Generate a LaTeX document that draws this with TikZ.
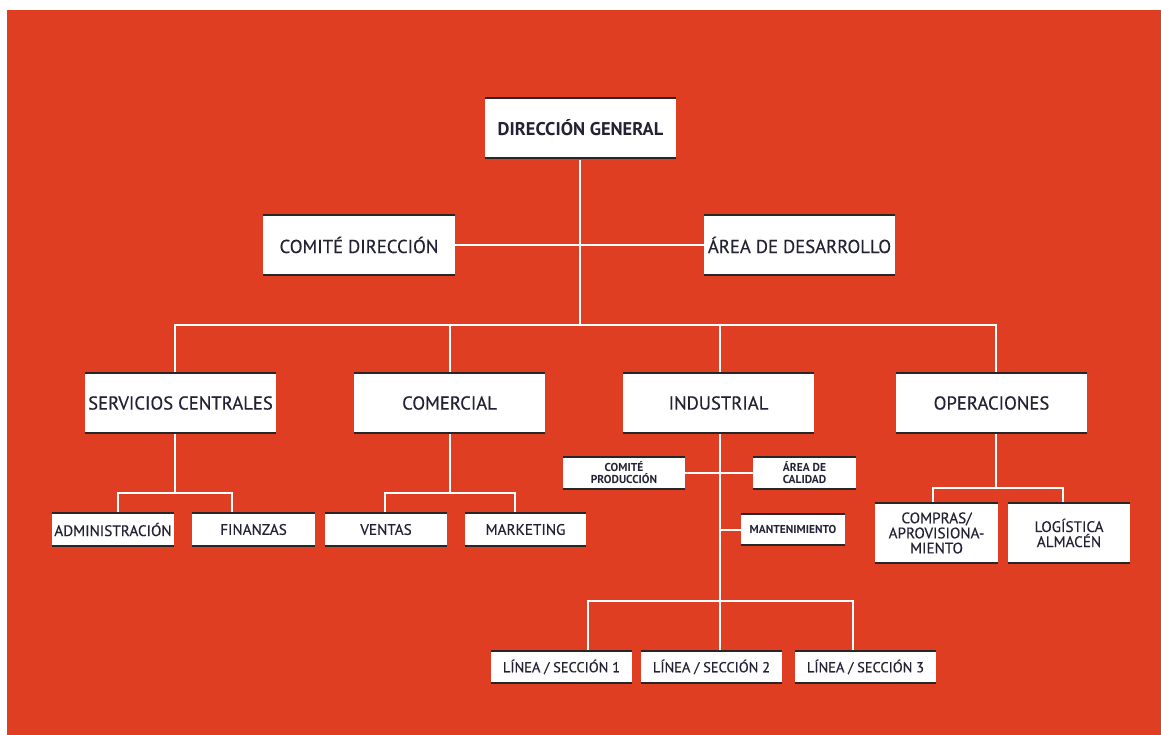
\documentclass[tikz,border=0pt]{standalone}
\usepackage{fontspec}
\setmainfont{PT Sans}
\newfontfamily\dinfont[FakeBold=0.35]{PT Sans}
\newfontfamily\dinbold{PT Sans Bold}
\definecolor{chartred}{RGB}{224,62,34}
\definecolor{inkdark}{RGB}{34,34,52}
\definecolor{rulegray}{RGB}{38,38,38}

% Box with a dark rule along its top and bottom edges.
\newcommand\orgbox[7][]{%
  \node[orgbox,#1,minimum width={(#5-#3)*0.75pt},minimum height={(#6-#4)*0.75pt}]
       (#2) at ({(#3+#5)/2},{(#4+#6)/2}) {#7};
  \draw[edgerule,#1] (#2.north west) -- (#2.north east);
  \draw[edgerule,#1] (#2.south west) -- (#2.south east);
}

\tikzset{
  orgbox/.style={fill=white,inner sep=0pt,align=center,text=inkdark,font=\dinfont\fontsize{14}{16}\selectfont},
  edgerule/.style={draw=rulegray,line width=1.5pt},
  headbox/.style={font=\dinbold\fontsize{13.8}{16}\selectfont,edgerule/.append style={draw=black,line width=4pt}},
  smallbox/.style={font=\dinfont\fontsize{11.4}{11.3}\selectfont},
  linebox/.style={font=\dinfont\fontsize{10.8}{12}\selectfont},
  tinybox/.style={font=\dinbold\fontsize{8.6}{9}\selectfont},
  link/.style={draw=white,line width=1.2pt},
}

\begin{document}
\begin{tikzpicture}[x=0.75pt,y=-0.75pt]
  \useasboundingbox (0,0) rectangle (1161,735);
  \fill[white] (0,0) rectangle (1161,735);
  \fill[chartred] (7,10) rectangle (1161,735);

  % junction points of the connector tree
  \coordinate (bus)  at (580,325);
  \coordinate (scR)  at (232,493);
  \coordinate (coR)  at (515,493);
  \coordinate (opR)  at (1063,488);
  \coordinate (lnM)  at (720,601);
  \coordinate (lnR)  at (853,601);

  % connectors (drawn first, boxes sit on top)
  \begin{scope}[link]
    \coordinate (dgfoot) at (580,160);
    \draw (dgfoot) -- (bus);
    \coordinate (cdr) at (455,245);
    \coordinate (adl) at (704,245);
    \draw (cdr) -- (adl);
    \draw (175,373) |- (bus) -| (996,373);
    \draw (450,325) -- (450,373);
    \draw (720,325) -- (720,373);
    % servicios centrales
    \draw (175,433) -- (175,493);
    \draw (118,513) |- (scR) -- (232,513);
    % comercial
    \draw (450,433) -- (450,493);
    \draw (385,513) |- (coR) -- (515,513);
    % operaciones
    \draw (996,433) -- (996,488);
    \draw (933,503) |- (opR) -- (1063,503);
    % industrial
    \draw (720,433) -- (lnM);
    \draw (685,473) -- (753,473);
    \draw (720,530) -- (741,530);
    \draw (588,651) |- (lnR) -- (853,651);
    \draw (lnM) -- (720,651);
  \end{scope}

  % boxes
  \orgbox[headbox]{dg}{485}{98}{676}{158}{DIRECCIÓN GENERAL}
  \orgbox{cd}{263}{215}{455}{275}{COMITÉ DIRECCIÓN}
  \orgbox{ad}{704}{215}{895}{275}{ÁREA DE DESARROLLO}
  \orgbox{sc}{85}{373}{276}{433}{SERVICIOS CENTRALES}
  \orgbox{co}{354}{373}{545}{433}{COMERCIAL}
  \orgbox{in}{623}{373}{814}{433}{INDUSTRIAL}
  \orgbox{op}{896}{373}{1087}{433}{OPERACIONES}

  \orgbox[smallbox]{adm}{52}{513}{174}{546}{ADMINISTRACIÓN}
  \orgbox[smallbox]{fin}{192}{513}{315}{546}{FINANZAS}
  \orgbox[smallbox]{ven}{325}{513}{447}{546}{VENTAS}
  \orgbox[smallbox]{mkt}{465}{513}{586}{546}{MARKETING}

  \orgbox[tinybox]{cp}{563}{457}{685}{489}{COMITÉ\\PRODUCCIÓN}
  \orgbox[tinybox]{ac}{753}{457}{856}{489}{ÁREA DE\\CALIDAD}
  \orgbox[tinybox]{mant}{741}{514}{845}{545}{MANTENIMIENTO}

  \orgbox[smallbox]{comp}{875}{503}{998}{563}{COMPRAS/\\APROVISIONA-\\MIENTO}
  \orgbox[smallbox]{log}{1008}{503}{1130}{563}{LOGÍSTICA\\ALMACÉN}

  \orgbox[linebox]{l1}{491}{651}{632}{683}{LÍNEA / SECCIÓN 1}
  \orgbox[linebox]{l2}{641}{651}{782}{683}{LÍNEA / SECCIÓN 2}
  \orgbox[linebox]{l3}{795}{651}{936}{683}{LÍNEA / SECCIÓN 3}
\end{tikzpicture}
\end{document}
